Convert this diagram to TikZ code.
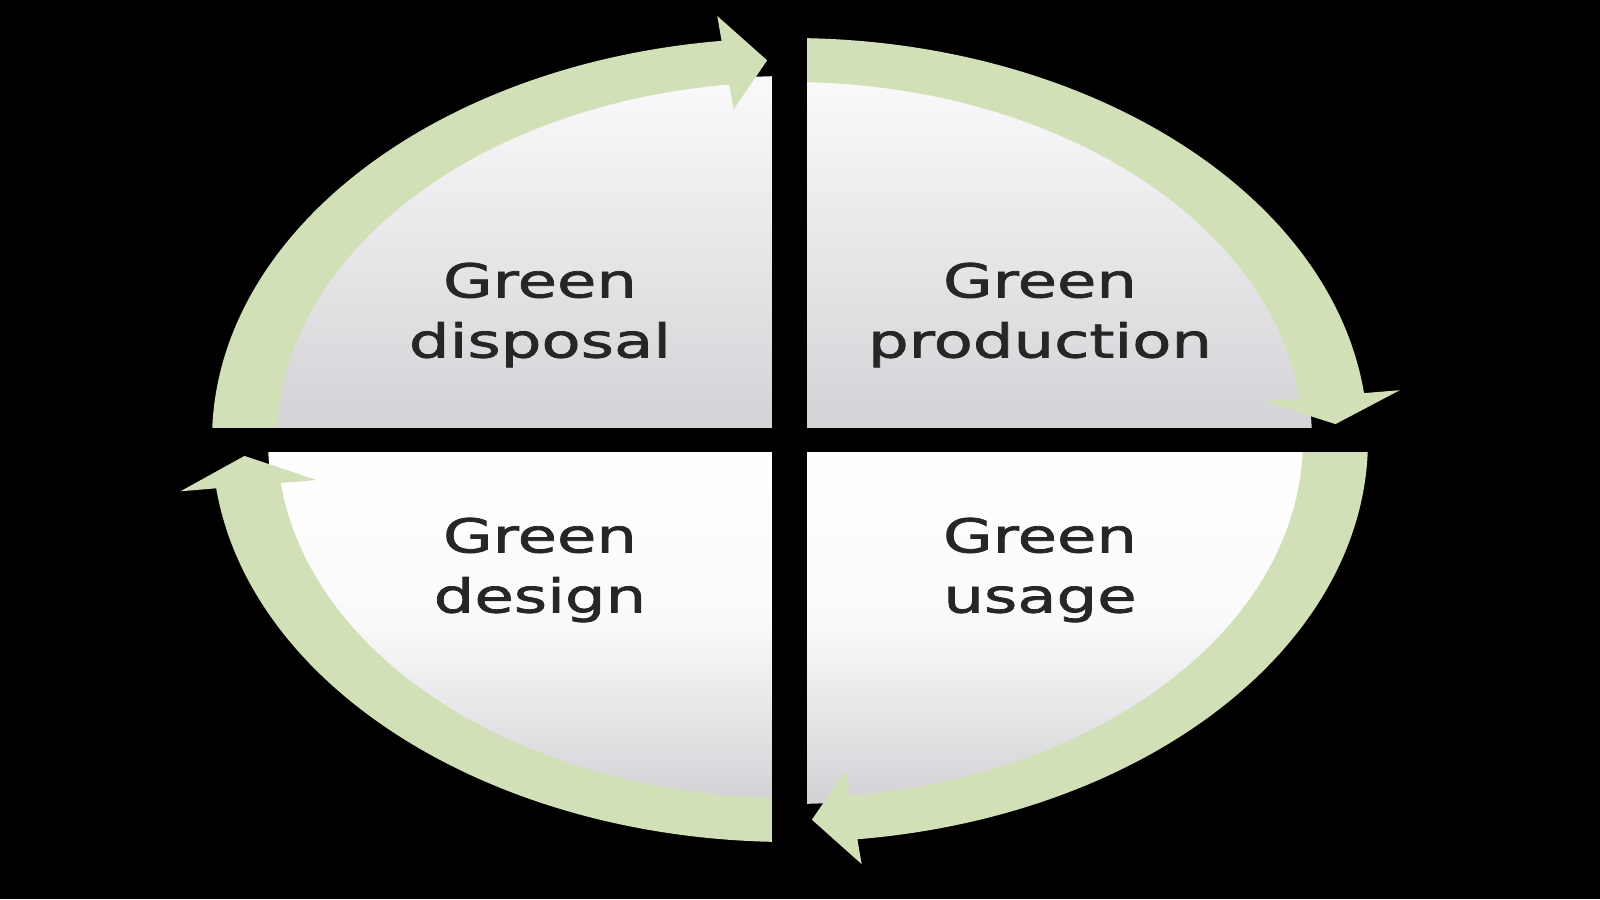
\documentclass[tikz,border=0pt]{standalone}
\usepackage{fontspec}
\newfontfamily\phasefont[FakeStretch=1.37, FakeBold=1.6]{DejaVu Sans}
\definecolor{ringgreen}{RGB}{210,224,184}
\definecolor{quadtop}{RGB}{250,250,251}
\definecolor{quadmid}{RGB}{238,238,240}
\definecolor{quadbottom}{RGB}{210,210,214}
\definecolor{phasegray}{RGB}{38,38,38}
\tikzset{
  ring/.style={fill=ringgreen},
  quad/.style={top color=quadtop, middle color=quadmid, bottom color=quadbottom},
  phase/.style={font=\phasefont\fontsize{13.3}{17.1}\selectfont, text=phasegray, align=center, inner sep=0pt}
}
\begin{document}
\begin{tikzpicture}[x=0.1mm, y=0.1mm]
\fill[black] (-790,-459) rectangle (810,440);
\shade[quad] (0,0) -- (0:522 and 364) arc[start angle=0, end angle=180, x radius=522, y radius=364] -- cycle;
\shade[quad, top color=white, middle color=quadtop] (0,0) -- (180:522 and 364) arc[start angle=180, end angle=360, x radius=522, y radius=364] -- cycle;
  \fill[ring] (180:578 and 402) arc[start angle=180, end angle=96.8, x radius=578, y radius=402] -- (96.8:614 and 427) -- (92.4:546 and 380) -- (96.8:477 and 333) -- (96.8:513 and 358) arc[start angle=96.8, end angle=180, x radius=513, y radius=358] -- cycle;
  \fill[ring] (90:578 and 402) arc[start angle=90, end angle=6.7, x radius=578, y radius=402] -- (6.7:614 and 427) -- (2.4:546 and 380) -- (6.7:477 and 333) -- (6.7:513 and 358) arc[start angle=6.7, end angle=90, x radius=513, y radius=358] -- cycle;
  \fill[ring] (0:578 and 402) arc[start angle=0, end angle=-83.3, x radius=578, y radius=402] -- (-83.3:614 and 427) -- (-87.7:546 and 380) -- (-83.3:477 and 333) -- (-83.3:513 and 358) arc[start angle=-83.3, end angle=0, x radius=513, y radius=358] -- cycle;
  \fill[ring] (270:578 and 402) arc[start angle=270, end angle=186.9, x radius=578, y radius=402] -- (186.9:614 and 427) -- (182.4:546 and 380) -- (186.9:477 and 333) -- (186.9:513 and 358) arc[start angle=186.9, end angle=270, x radius=513, y radius=358] -- cycle;
\fill[black] (-18,-459) rectangle (17,440);
\fill[black] (-790,-12) rectangle (810,12);
\node[phase] (disposal) at (-250,125) {Green\\disposal};
\node[phase] (production) at (250,125) {Green\\production};
\node[phase] (design) at (-250,-130) {Green\\design};
\node[phase] (usage) at (250,-130) {Green\\usage};
\end{tikzpicture}
\end{document}
